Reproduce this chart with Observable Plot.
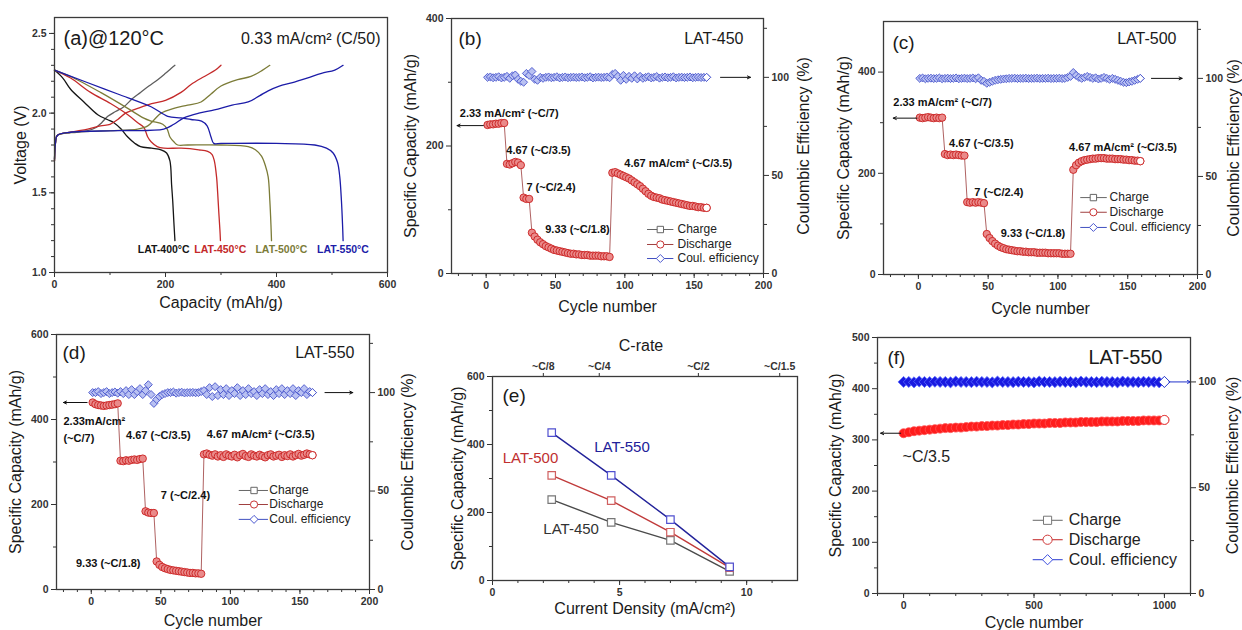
<!DOCTYPE html>
<html><head><meta charset="utf-8">
<script src="https://cdn.jsdelivr.net/npm/d3@7"></script>
<script src="https://cdn.jsdelivr.net/npm/@observablehq/plot@0.6"></script>
<style>
body{margin:0;background:#fff;}
#page{position:relative;width:1242px;height:630px;overflow:hidden;background:#fff;}
</style></head><body><div id="page"></div>
<script>
// ================= DATA =================
// (a) voltage profiles [capacity mAh/g, voltage V]
const dis400 = [[0,2.27],[15,2.22],[29,2.15],[53,2.07],[78,1.99],[95,1.96],[107,1.94],[120,1.9],[132,1.85],[145,1.81],[155,1.79],[175,1.78],[192,1.77],[202,1.75],[208,1.70],[211,1.55],[213,1.45],[215,1.32],[217,1.2]];
const chg400 = [[0,1.70],[2,1.82],[5,1.86],[30,1.88],[60,1.89],[75,1.91],[85,1.94],[96,1.98],[110,2.01],[125,2.04],[140,2.09],[155,2.13],[170,2.17],[186,2.21],[200,2.25],[210,2.28],[217,2.30]];
const dis450 = [[0,2.27],[29,2.22],[65,2.13],[101,2.06],[132,1.99],[150,1.94],[161,1.91],[168,1.85],[174,1.82],[185,1.79],[197,1.78],[228,1.78],[260,1.77],[276,1.76],[284,1.74],[288,1.70],[292,1.6],[294,1.5],[296,1.38],[298,1.27],[299,1.2]];
const chg450 = [[0,1.70],[2,1.82],[5,1.86],[29,1.88],[60,1.90],[83,1.92],[100,1.93],[114,1.96],[128,2.0],[150,2.03],[175,2.06],[200,2.08],[228,2.13],[246,2.18],[270,2.23],[290,2.27],[300,2.30]];
const dis500 = [[0,2.27],[29,2.23],[83,2.13],[132,2.03],[160,1.97],[174,1.95],[195,1.93],[203,1.9],[208,1.85],[215,1.82],[222,1.80],[240,1.80],[300,1.80],[349,1.79],[362,1.77],[373,1.73],[380,1.67],[385,1.6],[388,1.45],[390,1.3],[391,1.2]];
const chg500 = [[0,1.71],[2,1.82],[5,1.86],[40,1.88],[100,1.89],[150,1.90],[168,1.92],[180,1.96],[192,2.0],[215,2.03],[240,2.05],[264,2.07],[282,2.12],[300,2.17],[330,2.21],[354,2.23],[375,2.27],[388,2.30]];
const dis550 = [[0,2.27],[53,2.20],[114,2.12],[174,2.04],[204,1.98],[228,1.97],[246,1.96],[265,1.95],[275,1.92],[282,1.85],[287,1.81],[300,1.81],[400,1.81],[469,1.80],[490,1.78],[502,1.75],[510,1.69],[514,1.6],[517,1.45],[519,1.3],[520,1.2]];
const chg550 = [[0,1.71],[2,1.82],[5,1.86],[29,1.88],[114,1.89],[197,1.90],[215,1.93],[233,1.97],[260,2.0],[288,2.02],[320,2.05],[349,2.07],[370,2.11],[385,2.14],[405,2.17],[427,2.19],[455,2.22],[481,2.25],[505,2.27],[520,2.30]];
const seriesNamesA = ["LAT-400°C","LAT-450°C","LAT-500°C","LAT-550°C"];
const capTicksA = [0,200,400,600];
const voltTicksA = [1.0,1.5,2.0,2.5];

// (b)-(d) rate tests: values at cycles 1,3,5,...,159
const cyclesRate = d3.range(1,160,2);
const dischargeB = [233,234,234,235,235,236,236, 172,171,173,175,174,170, 119,117,117,
 64,58,53,49,46,43,41,39,37,36,35,34,33,32,31,31,30,30,29,29,29,28,28,28,28,27,27,27,26,
 158,159,157,155,153,151,149,146,143,140,137,133,129,125,122,120,119,118,116,115,114,113,112,111,110,109,108,107,106,106,105,104,104,103,103];
const ceB = [100,100.2,99.8,100,100.3,99.7,100, 100.5,99.5,100.8,101.2,99,98, 97.5,102,101,
 103,99,98.5,100,99.5,100,100.2,99.8,100,100.3,99.7,100,100.2,99.8,100,100.1,99.9,100,100.2,99.8,100,100.3,99.7,100,100.1,99.9,100,100.2,99.8,
 101.5,102,100.5,98.5,101,99,100.5,99.5,100.8,99.2,100.5,99.5,100,100.3,99.7,100,100.4,99.6,100,100.2,99.8,100,100.3,99.7,100,100.1,99.9,100,100.2,99.8,100,100.1,99.9,100,100];
const dischargeC = [310,309,310,311,310,309,310,309,310, 238,236,237,236,237,236,235,235, 143,142,143,142,143,142,141,
 80,72,66,61,57,54,52,50,49,48,47,46,46,45,45,44,44,44,43,43,43,43,42,42,42,42,42,41,41,41,41,
 207,216,221,224,226,227,228,229,229,230,230,230,229,229,229,228,228,228,227,227,226,226,225,225,224];
const ceC = [100,100.2,99.8,100,100.1,99.9,100,100.2,99.8, 100,100.1,99.9,100,100.2,99.8,100,100.1, 99.9,100,100.2,99.8,100.3,99,98.5,
 97.5,98,98.5,99,99.3,99.5,99.7,99.8,100,100,100.1,99.9,100,100,100.1,99.9,100,100,100.1,99.9,100,100,100.1,99.9,100,100,100.1,99.9,100,100.5,101,
 103,101.5,100.5,100,100.5,101,100.5,100,100.3,99.7,100,100.5,100,99.5,100,99.5,99,98.5,98,97.8,98.2,98.5,99,99.5,100];
const dischargeD = [440,436,434,433,432,433,434,435,436,438, 303,302,304,303,305,306,305,307,308, 184,181,180,180,
 66,58,53,50,48,46,45,44,43,42,41,40,39,39,38,38,37,
 318,320,317,315,318,313,316,312,318,315,313,317,311,316,319,314,312,318,315,313,317,314,311,316,318,313,315,317,312,316,314,318,313,316,319,315,317,320,318,316];
const ceD = [100,100,100.5,99.5,100,100.5,99.5,100,100.3,99.7, 100.5,99.5,101,99,101.5,99,100.5,102,99, 101,104,99,94.5,
 96.5,98,99,99.5,100,100,100.3,99.7,100,100.2,99.8,100,100,100.1,99.9,100,100.5,
 101,99,102.5,98,103,98.5,101.5,99,102,98.5,101,99.5,102.5,98.5,101,99,102,99.5,100.5,98.5,101.5,99.5,102,99,100.5,98.5,101.5,99.5,102,99,101,99.5,102,98.5,101,100,102,99,100.5,100];

// (e) capacity vs current density
const currentDensity = [2.33,4.67,7,9.33];
const cap450 = [238,171,118,27];
const cap500 = [309,235,142,38];
const cap550 = [435,309,179,40];
const cRateLabels = ["~C/8","~C/4","~C/2","~C/1.5"];
const cRatePos = [2.0,4.2,8.1,11.3];

// (f) long cycling, every 20 cycles
const cyclesF = d3.range(0,1001,20);
const dischargeF = [313,315,317,318,319,320,321,322,323,323,324,324,325,326,326,327,327,328,328,329,329,330,330,331,331,332,332,332,333,333,333,334,334,334,335,335,335,335,336,336,336,336,337,337,337,337,338,338,338,338,339];
const ceF = [100,100,99.8,100.2,100,99.9,100.1,100,100,99.8,100.2,100,100,99.9,100.1,100,100,99.8,100.2,100,100,99.9,100.1,100,100,99.8,100.2,100,100,99.9,100.1,100,100,99.8,100.2,100,100,99.9,100.1,100,100,99.8,100.2,100,100,99.9,100.1,100,100,99.8,100];

const legendLabels = ["Charge","Discharge","Coul. efficiency"];

// ================= HELPERS =================
const page = document.getElementById("page");
const FONT = '"Liberation Sans", Arial, Helvetica, sans-serif';
const INK = "#1a1a1a";
const baseStyle = {fontFamily: FONT, fontSize: "10px", color: INK, background: "transparent", overflow: "visible"};
function mount(el, left, top){
  const d = document.createElement("div");
  d.style.position = "absolute"; d.style.left = left + "px"; d.style.top = top + "px";
  d.appendChild(el); page.appendChild(d);
}
function axisMarks(o){
  const common = {label: null, color: "#333", fontWeight: "bold", fontSize: 10.5, tickPadding: 3};
  const m = [
    Plot.axisX({...common, ticks: o.xMinor, tickSize: 3, tickFormat: () => ""}),
    Plot.axisX({...common, ticks: o.xMajor, tickSize: 5, tickFormat: o.xFmt || d3.format("d")}),
    Plot.axisY({...common, ticks: o.yMinor, tickSize: 3, tickFormat: () => ""}),
    Plot.axisY({...common, ticks: o.yMajor, tickSize: 5, tickFormat: o.yFmt || d3.format("d")})
  ];
  if (o.right) {
    const k = o.right.k;
    m.push(Plot.axisY({...common, anchor: "right", ticks: o.right.minor.map(v => v * k), tickSize: 3, tickFormat: () => ""}));
    m.push(Plot.axisY({...common, anchor: "right", ticks: o.right.major.map(v => v * k), tickSize: 5, tickFormat: d => String(Math.round(d / k))}));
  }
  return m;
}
function title(t, anchor, dx, dy, rotate = 0, size = 16, extra = {}){
  return Plot.text([t], {text: d => d, frameAnchor: anchor, dx, dy, rotate, fontSize: size, fill: INK,
    textAnchor: "middle", lineAnchor: "middle", ...extra});
}
const frame = () => Plot.frame({stroke: "#3a3a3a", strokeWidth: 1.3});

function legendMarks(L, fontSize, big){
  const styles = [
    {symbol: "square", stroke: big ? "#777" : "#666", line: "#666"},
    {symbol: "circle", stroke: big ? "#d03a3a" : "#c83232", line: big ? "#c02020" : "#a04040"},
    {symbol: "diamond2", stroke: big ? "#3d4fe0" : "#4b58d0", line: big ? "#2a3cd0" : "#4050c0"}
  ];
  const marks = [];
  legendLabels.forEach((lab, i) => {
    const row = [{y: L.rows[i]}];
    marks.push(Plot.link(row, {x1: L.x1, x2: L.x2, y1: "y", y2: "y", stroke: styles[i].line, strokeWidth: 1}));
    marks.push(Plot.dot(row, {x: L.xs, y: "y", symbol: styles[i].symbol, r: big ? 4.6 : 3.6, fill: "white", stroke: styles[i].stroke, strokeWidth: 1}));
    marks.push(Plot.text(row, {x: L.xt, y: "y", text: () => lab, textAnchor: "start", lineAnchor: "middle", fontSize, fill: "#222"}));
  });
  return marks;
}

// ================= PANEL (a) =================
(function(){
  const colors = {dis: ["#151515","#c42a2a","#7c7c38","#1c1ca8"], chg: ["#5e5e5e","#c42a2a","#7c7c38","#1c1ca8"]};
  const disList = [dis400, dis450, dis500, dis550];
  const chgList = [chg400, chg450, chg500, chg550];
  const labelPos = [150, 252, 362, 473];
  const curves = [];
  [0,1,2,3].forEach(i => {
    curves.push(Plot.line(chgList[i], {x: d => d[0], y: d => d[1], stroke: colors.chg[i], strokeWidth: 1.3, curve: "catmull-rom"}));
    curves.push(Plot.line(disList[i], {x: d => d[0], y: d => d[1], stroke: colors.dis[i], strokeWidth: 1.3, curve: "catmull-rom"}));
  });
  const labels = seriesNamesA.map((n, i) => ({n, x: labelPos[i], i}));
  const plot = Plot.plot({
    width: 410, height: 320, marginLeft: 54, marginRight: 23, marginTop: 17, marginBottom: 48,
    style: baseStyle, x: {domain: [0,600]}, y: {domain: [1,2.6]},
    marks: [
      ...axisMarks({xMajor: capTicksA, xMinor: [100,300,500], yMajor: voltTicksA, yMinor: d3.range(1.1,2.6,0.1), yFmt: d3.format(".1f")}),
      ...curves,
      ...labels.map(l => Plot.text([l], {x: "x", y: () => 1.146, text: "n", textAnchor: "start", fontWeight: "bold", fontSize: 10.5, fill: colors.dis[l.i]})),
      title("(a)@120°C", "top-left", 9, 21, 0, 20, {textAnchor: "start"}),
      title("0.33 mA/cm² (C/50)", "top-right", -7, 21, 0, 16, {textAnchor: "end"}),
      title("Voltage (V)", "left", -34, 0, -90),
      title("Capacity (mAh/g)", "bottom", 0, 30),
      frame()
    ]
  });
  mount(plot, 0, 0);
})();

// ================= PANELS (b)(c)(d) =================
function cyclePanel(o){
  const k = o.yDomain[1] / o.ceMax;
  const dis = o.discharge.map((v, i) => ({c: o.cycles[i], v}));
  const ce = o.ce.map((v, i) => ({c: o.cycles[i], v: v * k}));
  const arrows = o.arrows.map(a => ({x1: a.x1, x2: a.x2, y: a.ce ? a.y * k : a.y}));
  const plot = Plot.plot({
    width: o.width, height: o.height, marginLeft: o.m[0], marginRight: o.m[1], marginTop: o.m[2], marginBottom: o.m[3],
    style: baseStyle, x: {domain: [-25,200]}, y: {domain: o.yDomain},
    marks: [
      ...axisMarks({xMajor: [0,50,100,150,200], xMinor: d3.range(-20,201,10), yMajor: o.yMajor, yMinor: o.yMinor,
        right: {k, major: [0,50,100], minor: [25,75,125].filter(v => v * k < o.yDomain[1])}}),
      Plot.dot(ce, {x: "c", y: "v", symbol: "diamond2", r: 3.6, fill: "#b9c1f2", stroke: "#4654cc", strokeWidth: 0.9}),
      Plot.dot(ce.slice(-1), {x: "c", y: "v", symbol: "diamond2", r: 3.6, fill: "white", stroke: "#4654cc", strokeWidth: 0.9}),
      Plot.line(dis, {x: "c", y: "v", stroke: "#9a3a3a", strokeWidth: 0.8}),
      Plot.dot(dis, {x: "c", y: "v", r: 3.7, fill: "#ea8a8a", stroke: "#c92020", strokeWidth: 0.9}),
      Plot.dot(dis.slice(-1), {x: "c", y: "v", r: 3.7, fill: "white", stroke: "#c92020", strokeWidth: 0.9}),
      Plot.text(o.annotations, {x: "x", y: "y", text: "t", textAnchor: "start", fontWeight: "bold", fontSize: 11, fill: "#111"}),
      Plot.arrow(arrows, {x1: "x1", x2: "x2", y1: "y", y2: "y", stroke: "#111", strokeWidth: 1, headLength: 5, headAngle: 50}),
      ...legendMarks(o.legend, 12, false),
      title(o.tag, "top-left", o.tagPos[0], o.tagPos[1], 0, 19, {textAnchor: "start"}),
      title(o.sample, "top-right", o.samplePos[0], o.samplePos[1], 0, 16, {textAnchor: "end"}),
      title("Specific Capacity (mAh/g)", "left", o.titles[0], 0, -90),
      title("Coulombic Efficiency (%)", "right", o.titles[1], 0, -90),
      title("Cycle number", "bottom", 0, o.titles[2]),
      frame()
    ]
  });
  mount(plot, o.left, o.top);
}

cyclePanel({
  left: 400, top: 0, width: 420, height: 320, m: [51,57,18,47],
  yDomain: [0,400], ceMax: 130, yMajor: [0,200,400], yMinor: [100,300],
  cycles: cyclesRate, discharge: dischargeB, ce: ceB,
  annotations: [
    {t: "2.33 mA/cm² (~C/7)", x: -19, y: 251},
    {t: "4.67 (~C/3.5)", x: 14.5, y: 193},
    {t: "7 (~C/2.4)", x: 29, y: 135},
    {t: "9.33 (~C/1.8)", x: 42.6, y: 69},
    {t: "4.67 mA/cm² (~C/3.5)", x: 99.6, y: 172.5}],
  arrows: [{x1: -2, x2: -21, y: 232}, {x1: 169, x2: 190.6, y: 100, ce: true}],
  legend: {rows: [69, 45.5, 23.5], x1: 116, x2: 135, xs: 125.6, xt: 138},
  tag: "(b)", tagPos: [7,20], sample: "LAT-450", samplePos: [-20,20], titles: [-41, 40, 33]
});
cyclePanel({
  left: 820, top: 0, width: 422, height: 320, m: [63,45,21,46],
  yDomain: [0,500], ceMax: 129, yMajor: [0,200,400], yMinor: [100,300],
  cycles: cyclesRate, discharge: dischargeC, ce: ceC,
  annotations: [
    {t: "2.33 mA/cm² (~C/7)", x: -18, y: 339},
    {t: "4.67 (~C/3.5)", x: 22, y: 258},
    {t: "7 (~C/2.4)", x: 40, y: 162},
    {t: "9.33 (~C/1.8)", x: 59, y: 81},
    {t: "4.67 mA/cm² (~C/3.5)", x: 108, y: 252}],
  arrows: [{x1: -1, x2: -18, y: 309}, {x1: 167, x2: 189, y: 100, ce: true}],
  legend: {rows: [152, 123, 93], x1: 116, x2: 135, xs: 125.4, xt: 137},
  tag: "(c)", tagPos: [9,21], sample: "LAT-500", samplePos: [-21,17], titles: [-40, 36, 34]
});
cyclePanel({
  left: 0, top: 320, width: 410, height: 310, m: [56,41,14,41],
  yDomain: [0,600], ceMax: 129.5, yMajor: [0,200,400,600], yMinor: [100,300,500],
  cycles: cyclesRate, discharge: dischargeD, ce: ceD,
  annotations: [
    {t: "2.33mA/cm²", x: -20, y: 395},
    {t: "(~C/7)", x: -20, y: 355},
    {t: "4.67 (~C/3.5)", x: 25, y: 362},
    {t: "7 (~C/2.4)", x: 50, y: 222},
    {t: "9.33 (~C/1.8)", x: -11, y: 62},
    {t: "4.67 mA/cm² (~C/3.5)", x: 83, y: 365}],
  arrows: [{x1: -3, x2: -20, y: 440}, {x1: 168, x2: 188, y: 100, ce: true}],
  legend: {rows: [233, 200, 165], x1: 106, x2: 127, xs: 117, xt: 128},
  tag: "(d)", tagPos: [6,18], sample: "LAT-550", samplePos: [-15,18], titles: [-41, 38, 31]
});

// ================= PANEL (e) =================
(function(){
  const sets = [
    {name: "LAT-450", caps: cap450, line: "#4a4a4a", mark: "#777", text: "#333", pos: [2.0,150]},
    {name: "LAT-500", caps: cap500, line: "#c03a3a", mark: "#d06060", text: "#c03030", pos: [0.4,359]},
    {name: "LAT-550", caps: cap550, line: "#22229a", mark: "#5050d0", text: "#22229a", pos: [4.0,391]}
  ];
  const marks = [];
  sets.forEach(s => {
    const rows = s.caps.map((v, i) => ({x: currentDensity[i], y: v}));
    marks.push(Plot.line(rows, {x: "x", y: "y", stroke: s.line, strokeWidth: 1.4}));
    marks.push(Plot.dot(rows, {x: "x", y: "y", symbol: "square", r: 4.2, fill: "white", stroke: s.mark, strokeWidth: 1.2}));
    marks.push(Plot.text([s], {x: () => s.pos[0], y: () => s.pos[1], text: "name", textAnchor: "start", fontSize: 15, fill: s.text}));
  });
  const plot = Plot.plot({
    width: 420, height: 310, marginLeft: 92, marginRight: 23, marginTop: 56, marginBottom: 50,
    style: baseStyle, x: {domain: [0,12]}, y: {domain: [0,600]},
    marks: [
      ...axisMarks({xMajor: [0,5,10], xMinor: d3.range(1,12,1), yMajor: [0,200,400,600], yMinor: [100,300,500]}),
      Plot.axisX({anchor: "top", ticks: cRatePos, tickSize: 4, tickPadding: 3, label: null, color: "#333", fontWeight: "bold", fontSize: 10.5,
        tickFormat: d => cRateLabels[cRatePos.indexOf(d)]}),
      ...marks,
      title("(e)", "top-left", 10, 19, 0, 19, {textAnchor: "start"}),
      title("C-rate", "top", -4, -31, 0, 16),
      title("Specific Capacity (mAh/g)", "left", -35, 0, -90),
      title("Current Density (mA/cm²)", "bottom", 0, 28),
      frame()
    ]
  });
  mount(plot, 400, 320);
})();

// ================= PANEL (f) =================
(function(){
  const ceMax = 121, yMax = 500, k = yMax / ceMax;
  const dis = dischargeF.map((v, i) => ({c: cyclesF[i], v}));
  const ce = ceF.map((v, i) => ({c: cyclesF[i], v: v * k}));
  const plot = Plot.plot({
    width: 422, height: 310, marginLeft: 57, marginRight: 52, marginTop: 17, marginBottom: 37,
    style: baseStyle, x: {domain: [-100,1100]}, y: {domain: [0,yMax]},
    marks: [
      ...axisMarks({xMajor: [0,500,1000], xMinor: d3.range(-100,1101,100), yMajor: d3.range(0,501,100), yMinor: d3.range(50,500,100),
        right: {k, major: [0,50,100], minor: [25,75]}}),
      Plot.dot(ce, {x: "c", y: "v", symbol: "diamond2", r: 5, fill: "#1a1ae0", stroke: "#5a6cff", strokeWidth: 0.8}),
      Plot.dot(ce.slice(-1), {x: "c", y: "v", symbol: "diamond2", r: 5, fill: "white", stroke: "#3344cc", strokeWidth: 1}),
      Plot.dot(dis, {x: "c", y: "v", r: 4.5, fill: "#ff1c1c", stroke: "#ff5252", strokeWidth: 0.8}),
      Plot.dot(dis.slice(-1), {x: "c", y: "v", r: 4.5, fill: "white", stroke: "#e04040", strokeWidth: 1}),
      Plot.arrow([{x1: -11, x2: -88, y: 313}], {x1: "x1", x2: "x2", y1: "y", y2: "y", stroke: "#111", strokeWidth: 1, headLength: 5, headAngle: 50}),
      Plot.arrow([{x1: 1017, x2: 1100, y: 100 * k}], {x1: "x1", x2: "x2", y1: "y", y2: "y", stroke: "#2233cc", strokeWidth: 1, headLength: 5, headAngle: 50}),
      Plot.text([{t: "~C/3.5"}], {x: () => -4, y: () => 267, text: "t", textAnchor: "start", fontSize: 16, fill: "#222"}),
      ...legendMarks({rows: [143, 105, 66], x1: 495, x2: 610, xs: 552, xt: 633}, 16, true),
      title("(f)", "top-left", 10, 20, 0, 19, {textAnchor: "start"}),
      title("LAT-550", "top-right", -28, 20, 0, 20, {textAnchor: "end"}),
      title("Specific Capacity (mAh/g)", "left", -42, 0, -90),
      title("Coulombic Efficiency (%)", "right", 42, 0, -90),
      title("Cycle number", "bottom", 0, 29),
      frame()
    ]
  });
  mount(plot, 820, 320);
})();
</script></body></html>
